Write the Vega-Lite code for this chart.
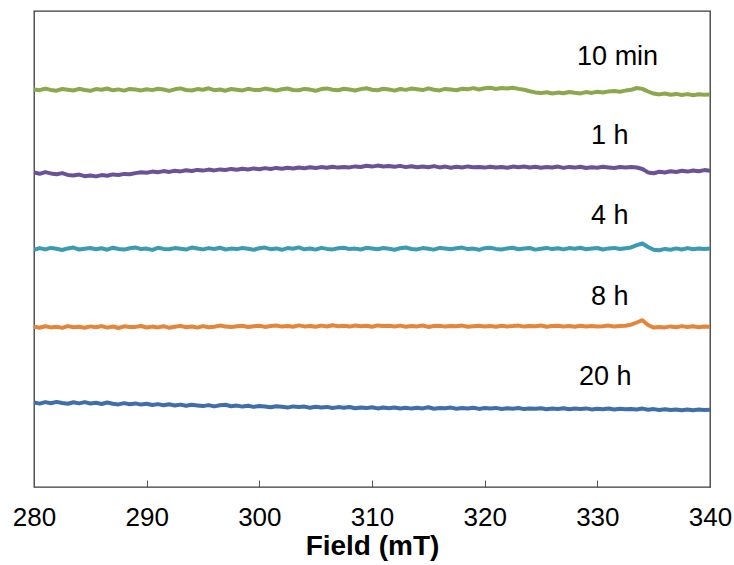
{
  "$schema": "https://vega.github.io/schema/vega-lite/v6.json",
  "width": 676,
  "height": 476,
  "autosize": {"type": "none"},
  "padding": {"left": 34, "top": 11, "right": 24, "bottom": 78},
  "background": "white",
  "config": {
    "view": {"stroke": "#3a3a3a", "strokeWidth": 1.3},
    "font": "Liberation Sans"
  },
  "datasets": {
    "spectra": [
      {"x":280,"a":397.6,"b":314.5,"c":237.2,"d":160.4,"e":84.6},
      {"x":280.5,"a":396.8,"b":313.2,"c":238.9,"d":159.3,"e":83.4},
      {"x":281,"a":398.4,"b":314.9,"c":237.6,"d":160.8,"e":84.9},
      {"x":281.5,"a":397.1,"b":313.6,"c":239.1,"d":159.6,"e":83.8},
      {"x":282,"a":396.3,"b":312.8,"c":238.2,"d":160.2,"e":85.1},
      {"x":282.5,"a":398.0,"b":313.9,"c":237.0,"d":159.1,"e":84.0},
      {"x":283,"a":397.3,"b":312.1,"c":238.6,"d":160.9,"e":83.2},
      {"x":283.5,"a":396.5,"b":311.6,"c":239.4,"d":159.8,"e":84.7},
      {"x":284,"a":398.2,"b":312.4,"c":237.5,"d":160.3,"e":83.6},
      {"x":284.5,"a":397.0,"b":310.8,"c":238.3,"d":159.2,"e":84.9},
      {"x":285,"a":396.2,"b":311.5,"c":239.0,"d":160.6,"e":83.5},
      {"x":285.5,"a":397.9,"b":310.6,"c":237.8,"d":159.7,"e":84.2},
      {"x":286,"a":397.2,"b":311.9,"c":238.7,"d":160.9,"e":83.0},
      {"x":286.5,"a":398.5,"b":311.2,"c":237.3,"d":159.4,"e":84.5},
      {"x":287,"a":396.7,"b":312.6,"c":239.3,"d":160.5,"e":83.3},
      {"x":287.5,"a":397.6,"b":312.0,"c":238.0,"d":159.0,"e":82.6},
      {"x":288,"a":396.4,"b":313.1,"c":237.4,"d":160.7,"e":83.9},
      {"x":288.5,"a":398.1,"b":312.7,"c":238.8,"d":159.9,"e":82.8},
      {"x":289,"a":397.4,"b":313.9,"c":239.6,"d":160.1,"e":83.6},
      {"x":289.5,"a":396.6,"b":314.8,"c":237.9,"d":161.0,"e":82.4},
      {"x":290,"a":397.8,"b":314.2,"c":238.4,"d":159.5,"e":83.2},
      {"x":290.5,"a":396.9,"b":315.4,"c":237.1,"d":160.4,"e":82.0},
      {"x":291,"a":398.3,"b":314.7,"c":239.2,"d":159.6,"e":82.9},
      {"x":291.5,"a":397.5,"b":315.9,"c":238.1,"d":160.8,"e":81.8},
      {"x":292,"a":396.1,"b":315.1,"c":237.7,"d":159.2,"e":82.7},
      {"x":292.5,"a":397.7,"b":316.3,"c":238.9,"d":160.2,"e":81.5},
      {"x":293,"a":398.6,"b":315.6,"c":238.2,"d":161.1,"e":82.4},
      {"x":293.5,"a":397.0,"b":316.8,"c":237.4,"d":159.7,"e":81.2},
      {"x":294,"a":396.5,"b":316.0,"c":239.5,"d":160.5,"e":82.2},
      {"x":294.5,"a":397.9,"b":317.1,"c":238.5,"d":159.4,"e":81.6},
      {"x":295,"a":397.2,"b":316.4,"c":237.6,"d":160.9,"e":80.9},
      {"x":295.5,"a":398.7,"b":317.4,"c":238.9,"d":159.8,"e":81.9},
      {"x":296,"a":396.8,"b":316.6,"c":238.0,"d":160.3,"e":80.6},
      {"x":296.5,"a":397.5,"b":317.6,"c":239.3,"d":161.4,"e":81.7},
      {"x":297,"a":396.3,"b":317.0,"c":237.5,"d":160.6,"e":82.3},
      {"x":297.5,"a":398.0,"b":318.1,"c":238.4,"d":159.9,"e":80.8},
      {"x":298,"a":397.3,"b":317.3,"c":237.9,"d":160.8,"e":81.4},
      {"x":298.5,"a":396.6,"b":318.3,"c":239.0,"d":161.3,"e":80.4},
      {"x":299,"a":398.2,"b":317.5,"c":238.2,"d":160.0,"e":81.2},
      {"x":299.5,"a":397.1,"b":318.6,"c":237.3,"d":160.7,"e":80.1},
      {"x":300,"a":396.9,"b":317.8,"c":238.8,"d":161.2,"e":81.0},
      {"x":300.5,"a":398.4,"b":318.9,"c":239.4,"d":160.1,"e":80.5},
      {"x":301,"a":397.6,"b":318.0,"c":237.8,"d":160.9,"e":79.7},
      {"x":301.5,"a":396.4,"b":319.1,"c":238.6,"d":161.5,"e":80.8},
      {"x":302,"a":397.8,"b":318.3,"c":237.2,"d":160.4,"e":80.2},
      {"x":302.5,"a":398.5,"b":319.3,"c":238.9,"d":161.0,"e":79.4},
      {"x":303,"a":397.0,"b":318.5,"c":238.3,"d":160.2,"e":80.6},
      {"x":303.5,"a":396.7,"b":319.5,"c":239.6,"d":161.6,"e":79.9},
      {"x":304,"a":398.1,"b":318.7,"c":237.7,"d":160.6,"e":80.4},
      {"x":304.5,"a":397.4,"b":319.8,"c":238.5,"d":161.1,"e":79.3},
      {"x":305,"a":396.2,"b":319.0,"c":237.4,"d":160.3,"e":80.3},
      {"x":305.5,"a":397.9,"b":319.9,"c":239.1,"d":161.4,"e":79.6},
      {"x":306,"a":398.6,"b":319.2,"c":238.1,"d":160.5,"e":80.1},
      {"x":306.5,"a":397.2,"b":320.3,"c":237.6,"d":161.7,"e":79.0},
      {"x":307,"a":396.8,"b":319.4,"c":238.7,"d":160.8,"e":79.9},
      {"x":307.5,"a":398.3,"b":320.1,"c":239.3,"d":161.2,"e":79.2},
      {"x":308,"a":397.5,"b":319.6,"c":237.9,"d":160.4,"e":80.0},
      {"x":308.5,"a":396.5,"b":320.6,"c":238.4,"d":161.5,"e":78.8},
      {"x":309,"a":397.9,"b":320.0,"c":237.5,"d":160.7,"e":79.6},
      {"x":309.5,"a":398.8,"b":321.2,"c":239.2,"d":161.3,"e":78.9},
      {"x":310,"a":397.3,"b":320.4,"c":238.6,"d":160.2,"e":79.8},
      {"x":310.5,"a":396.7,"b":321.4,"c":237.8,"d":161.6,"e":78.6},
      {"x":311,"a":398.2,"b":320.6,"c":239.0,"d":160.9,"e":79.4},
      {"x":311.5,"a":397.6,"b":321.0,"c":238.2,"d":161.2,"e":78.7},
      {"x":312,"a":396.4,"b":320.2,"c":237.3,"d":160.5,"e":79.5},
      {"x":312.5,"a":398.0,"b":321.1,"c":238.8,"d":161.4,"e":78.5},
      {"x":313,"a":397.1,"b":319.9,"c":239.5,"d":160.3,"e":79.3},
      {"x":313.5,"a":398.4,"b":320.8,"c":238.0,"d":161.0,"e":78.4},
      {"x":314,"a":397.7,"b":319.7,"c":237.6,"d":160.6,"e":79.2},
      {"x":314.5,"a":396.9,"b":320.5,"c":238.9,"d":161.5,"e":78.6},
      {"x":315,"a":398.6,"b":319.8,"c":238.3,"d":160.1,"e":79.7},
      {"x":315.5,"a":397.2,"b":320.9,"c":237.4,"d":160.9,"e":78.3},
      {"x":316,"a":396.6,"b":319.6,"c":239.1,"d":161.3,"e":79.1},
      {"x":316.5,"a":398.1,"b":320.4,"c":238.5,"d":160.4,"e":78.8},
      {"x":317,"a":397.4,"b":319.3,"c":237.7,"d":161.1,"e":79.4},
      {"x":317.5,"a":396.8,"b":320.2,"c":238.7,"d":160.7,"e":78.2},
      {"x":318,"a":398.3,"b":319.5,"c":239.4,"d":161.4,"e":79.0},
      {"x":318.5,"a":397.8,"b":320.6,"c":237.9,"d":160.2,"e":78.5},
      {"x":319,"a":398.9,"b":319.8,"c":238.4,"d":160.8,"e":79.3},
      {"x":319.5,"a":397.5,"b":320.1,"c":237.2,"d":161.2,"e":78.1},
      {"x":320,"a":398.7,"b":319.4,"c":238.8,"d":160.5,"e":78.9},
      {"x":320.5,"a":399.2,"b":320.3,"c":239.2,"d":161.0,"e":78.4},
      {"x":321,"a":398.0,"b":319.6,"c":238.1,"d":160.3,"e":79.1},
      {"x":321.5,"a":399.0,"b":320.0,"c":237.5,"d":161.3,"e":78.0},
      {"x":322,"a":398.5,"b":319.2,"c":238.6,"d":160.6,"e":78.7},
      {"x":322.5,"a":399.3,"b":320.4,"c":239.3,"d":160.9,"e":78.3},
      {"x":323,"a":398.1,"b":319.7,"c":237.8,"d":161.4,"e":79.0},
      {"x":323.5,"a":397.2,"b":320.5,"c":238.5,"d":160.4,"e":77.9},
      {"x":324,"a":395.8,"b":319.5,"c":239.0,"d":161.1,"e":78.6},
      {"x":324.5,"a":394.6,"b":320.2,"c":237.4,"d":160.7,"e":78.2},
      {"x":325,"a":393.9,"b":319.3,"c":238.3,"d":161.5,"e":78.8},
      {"x":325.5,"a":394.8,"b":320.0,"c":239.1,"d":160.2,"e":77.8},
      {"x":326,"a":393.5,"b":319.6,"c":237.9,"d":160.9,"e":78.5},
      {"x":326.5,"a":394.4,"b":320.4,"c":238.7,"d":161.2,"e":78.0},
      {"x":327,"a":393.7,"b":319.1,"c":237.6,"d":160.5,"e":78.7},
      {"x":327.5,"a":395.0,"b":320.1,"c":238.9,"d":161.0,"e":77.7},
      {"x":328,"a":394.2,"b":319.4,"c":238.2,"d":160.3,"e":78.4},
      {"x":328.5,"a":393.6,"b":320.3,"c":239.2,"d":161.3,"e":77.9},
      {"x":329,"a":394.9,"b":319.0,"c":237.7,"d":160.6,"e":78.6},
      {"x":329.5,"a":394.1,"b":319.8,"c":238.4,"d":161.1,"e":77.6},
      {"x":330,"a":395.2,"b":319.3,"c":239.0,"d":160.4,"e":78.3},
      {"x":330.5,"a":394.5,"b":320.2,"c":237.5,"d":160.8,"e":77.8},
      {"x":331,"a":395.6,"b":319.6,"c":238.6,"d":161.4,"e":78.5},
      {"x":331.5,"a":396.0,"b":319.1,"c":239.1,"d":160.5,"e":77.5},
      {"x":332,"a":395.3,"b":319.9,"c":238.0,"d":161.0,"e":78.2},
      {"x":332.5,"a":396.4,"b":319.4,"c":238.8,"d":161.3,"e":77.7},
      {"x":333,"a":397.2,"b":320.1,"c":239.6,"d":162.4,"e":78.1},
      {"x":333.5,"a":399.0,"b":319.5,"c":241.8,"d":164.5,"e":77.6},
      {"x":334,"a":398.1,"b":318.0,"c":243.5,"d":166.8,"e":78.4},
      {"x":334.5,"a":395.5,"b":314.6,"c":240.0,"d":162.0,"e":77.3},
      {"x":335,"a":393.4,"b":313.8,"c":237.2,"d":159.4,"e":77.9},
      {"x":335.5,"a":392.6,"b":315.2,"c":236.8,"d":160.1,"e":77.0},
      {"x":336,"a":393.5,"b":314.5,"c":238.1,"d":159.6,"e":77.7},
      {"x":336.5,"a":392.3,"b":315.8,"c":237.3,"d":160.6,"e":76.9},
      {"x":337,"a":393.1,"b":315.0,"c":238.6,"d":159.8,"e":77.6},
      {"x":337.5,"a":392.0,"b":316.2,"c":237.5,"d":160.9,"e":76.8},
      {"x":338,"a":392.9,"b":315.4,"c":238.9,"d":160.0,"e":77.5},
      {"x":338.5,"a":391.8,"b":316.5,"c":237.8,"d":160.7,"e":76.7},
      {"x":339,"a":392.7,"b":315.7,"c":238.4,"d":159.7,"e":77.4},
      {"x":339.5,"a":392.2,"b":316.9,"c":238.0,"d":160.5,"e":76.9},
      {"x":340,"a":392.5,"b":316.3,"c":238.5,"d":160.2,"e":77.3}
    ],
    "labels": [
      {"x": 331.8, "y": 430, "label": "10 min"},
      {"x": 331.1, "y": 351, "label": "1 h"},
      {"x": 331.1, "y": 271, "label": "4 h"},
      {"x": 331.1, "y": 190, "label": "8 h"},
      {"x": 330.7, "y": 110, "label": "20 h"}
    ]
  },
  "layer": [
    {
      "data": {"name": "spectra"},
      "transform": [
        {"fold": ["a", "b", "c", "d", "e"], "as": ["series", "value"]}
      ],
      "mark": {"type": "line", "strokeWidth": 4, "strokeJoin": "round", "clip": true},
      "encoding": {
        "x": {
          "field": "x", "type": "quantitative",
          "scale": {"domain": [280, 340], "nice": false, "zero": false},
          "axis": {
            "values": [280, 290, 300, 310, 320, 330, 340],
            "title": "Field (mT)",
            "titleFont": "Liberation Sans",
            "titleFontSize": 28,
            "titleFontWeight": "bold",
            "titleColor": "black",
            "titlePadding": 2,
            "labelFont": "Liberation Sans",
            "labelFontSize": 26,
            "labelColor": "black",
            "labelPadding": 24,
            "labelFlush": false,
            "labelOverlap": false,
            "domain": false,
            "grid": false,
            "tickSize": -7,
            "tickColor": "#555555",
            "tickWidth": 1
          }
        },
        "y": {
          "field": "value", "type": "quantitative",
          "scale": {"domain": [0, 476], "nice": false, "zero": false},
          "axis": null
        },
        "color": {
          "field": "series", "type": "nominal",
          "scale": {
            "domain": ["a", "b", "c", "d", "e"],
            "range": ["#8BA84D", "#6B5196", "#3A9BB3", "#E5853B", "#3F6EAA"]
          },
          "legend": null
        }
      }
    },
    {
      "data": {"name": "labels"},
      "mark": {"type": "text", "font": "Liberation Sans", "fontSize": 27, "color": "black", "align": "center", "baseline": "middle"},
      "encoding": {
        "x": {"field": "x", "type": "quantitative"},
        "y": {"field": "y", "type": "quantitative"},
        "text": {"field": "label"}
      }
    }
  ]
}
